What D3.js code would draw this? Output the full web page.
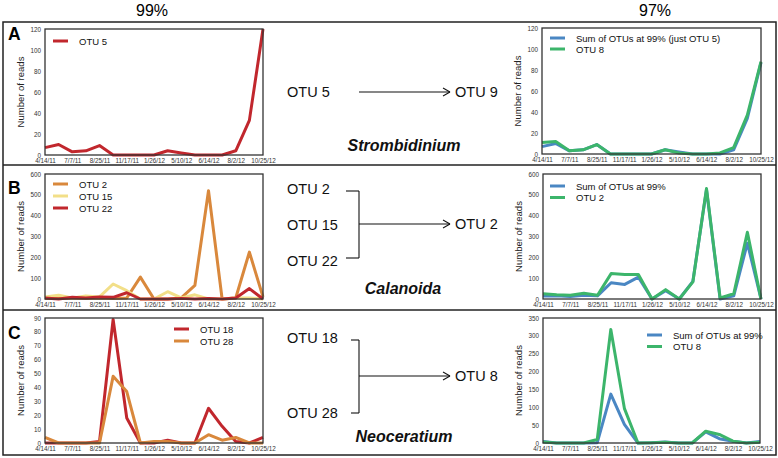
<!DOCTYPE html>
<html><head><meta charset="utf-8">
<script src="https://cdn.jsdelivr.net/npm/d3@7"></script>
<style>body{margin:0;background:#fff}svg{display:block}text{font-family:"Liberation Sans",Arial,sans-serif}</style>
</head><body>
<script>
const dateLabels = ["4/14/11","7/7/11","8/25/11","11/17/11","1/26/12","5/10/12","6/14/12","8/2/12","10/25/12"];
// 17 sampling points, labels every 2nd point
const otu5_99  = [7,10,3,4,9,0,0,0,0,4,2,0,0,0,4,33,120];
const sumA_97  = [7,10,3,4,9,0,0,0,0,4,2,0,0,0,4,34,87];
const otu8A_97 = [11,12,3,4,9,0,0,0,0,4,1,0,0,1,6,37,88];

const otu2_99  = [5,3,5,3,5,2,5,105,0,0,5,65,520,0,5,225,10];
const otu15_99 = [10,18,5,15,10,72,40,0,0,35,5,20,0,0,5,5,0];
const otu22_99 = [5,0,8,5,10,8,30,0,0,0,3,0,2,0,5,50,0];
const sumB_97  = [15,15,12,18,15,78,70,105,0,40,0,85,525,0,15,268,0];
const otu2B_97 = [25,20,18,28,18,122,118,118,0,45,0,82,530,5,25,320,0];

const otu18_99 = [0,0,0,0,1,89,18,0,0,2,0,0,25,12,1,0,4];
const otu28_99 = [4,0,0,0,0,48,37,0,1,1,0,0,6,2,4,0,0];
const sumC_97  = [4,0,0,0,1,137,52,0,1,3,0,0,31,12,5,0,4];
const otu8C_97 = [3,0,0,0,10,318,97,0,1,2,0,0,33,24,5,0,2];

const C = {red:"#c1272d", orange:"#d9883c", yellow:"#f2df88", blue:"#4a87c3", green:"#3cb56b"};

const W=778,H=458;
const svg=d3.select("body").append("svg").attr("width",W).attr("height",H);

function chart(cfg){
  const {x0,x1,y0,y1,ymax,ystep,series,legend,lx,ly} = cfg;
  const g=svg.append("g");
  const x=d3.scaleLinear().domain([0,16]).range([x0,x1]);
  const y=d3.scaleLinear().domain([0,ymax]).range([y1,y0]);
  const ya=g.append("g").attr("transform",`translate(${x0-3},0)`)
    .call(d3.axisLeft(y).tickValues(d3.range(0,ymax+0.001,ystep)).tickSize(0).tickPadding(1));
  ya.select(".domain").remove();
  ya.selectAll("text").attr("font-size",6.3).attr("fill","#333").style("font-family","Liberation Sans, Arial");
  const xa=g.append("g").attr("transform",`translate(0,${y1+3})`)
    .call(d3.axisBottom(x).tickValues(d3.range(0,17,2)).tickFormat((d,i)=>dateLabels[i]).tickSize(0).tickPadding(1));
  xa.select(".domain").remove();
  xa.selectAll("text").attr("font-size",6.3).attr("fill","#333").style("font-family","Liberation Sans, Arial");
  g.append("text").attr("transform",`translate(${x0-21},${(y0+y1)/2}) rotate(-90)`)
    .attr("text-anchor","middle").attr("font-size",9.5).attr("fill","#222").text("Number of reads");
  const line=d3.line().x((d,i)=>x(i)).y(d=>y(d));
  series.forEach(s=>{
    g.append("path").datum(s.values).attr("d",line).attr("fill","none")
      .attr("stroke",s.color).attr("stroke-width",3).attr("stroke-linejoin","round");
  });
  g.append("rect").attr("x",x0).attr("y",y0).attr("width",x1-x0).attr("height",y1-y0)
    .attr("fill","none").attr("stroke","#333").attr("stroke-width",1.3);
  legend.forEach((s,i)=>{
    const yy=ly+i*cfg.lgap;
    g.append("line").attr("x1",lx).attr("x2",lx+15).attr("y1",yy).attr("y2",yy)
      .attr("stroke",s.color).attr("stroke-width",3);
    g.append("text").attr("x",lx+26).attr("y",yy+3.5).attr("font-size",9.5).attr("fill","#111").text(s.name);
  });
}

// frame
svg.append("rect").attr("x",3).attr("y",22).attr("width",773).attr("height",433)
  .attr("fill","none").attr("stroke","#222").attr("stroke-width",1.5);
[165,310].forEach(yy=>svg.append("line").attr("x1",3).attr("x2",776).attr("y1",yy).attr("y2",yy)
  .attr("stroke","#222").attr("stroke-width",1.5));

svg.append("text").attr("x",152).attr("y",16).attr("text-anchor","middle").attr("font-size",16).text("99%");
svg.append("text").attr("x",655).attr("y",16).attr("text-anchor","middle").attr("font-size",16).text("97%");
[["A",40],["B",194],["C",339]].forEach(([t,yy])=>svg.append("text").attr("x",8).attr("y",yy)
  .attr("font-size",17.5).attr("font-weight","bold").text(t));

// Row A
chart({x0:45,x1:263,y0:29,y1:155,ymax:120,ystep:20,
  series:[{color:C.red,values:otu5_99}],
  legend:[{name:"OTU 5",color:C.red}],lx:53,ly:41,lgap:11});
chart({x0:542,x1:761,y0:28,y1:154,ymax:120,ystep:20,
  series:[{color:C.blue,values:sumA_97},{color:C.green,values:otu8A_97}],
  legend:[{name:"Sum of OTUs at 99% (just OTU 5)",color:C.blue},{name:"OTU 8",color:C.green}],lx:550,ly:38,lgap:11});
// Row B
chart({x0:45,x1:263,y0:174,y1:299,ymax:600,ystep:100,
  series:[{color:C.orange,values:otu2_99},{color:C.yellow,values:otu15_99},{color:C.red,values:otu22_99}],
  legend:[{name:"OTU 2",color:C.orange},{name:"OTU 15",color:C.yellow},{name:"OTU 22",color:C.red}],lx:53,ly:184,lgap:12});
chart({x0:543,x1:761,y0:174,y1:299,ymax:600,ystep:100,
  series:[{color:C.blue,values:sumB_97},{color:C.green,values:otu2B_97}],
  legend:[{name:"Sum of OTUs at 99%",color:C.blue},{name:"OTU 2",color:C.green}],lx:550,ly:186,lgap:11.5});
// Row C
chart({x0:45,x1:263,y0:318,y1:443,ymax:90,ystep:10,
  series:[{color:C.red,values:otu18_99},{color:C.orange,values:otu28_99}],
  legend:[{name:"OTU 18",color:C.red},{name:"OTU 28",color:C.orange}],lx:174,ly:329,lgap:12});
chart({x0:543,x1:760,y0:318,y1:443,ymax:350,ystep:50,
  series:[{color:C.blue,values:sumC_97},{color:C.green,values:otu8C_97}],
  legend:[{name:"Sum of OTUs at 99%",color:C.blue},{name:"OTU 8",color:C.green}],lx:647,ly:335,lgap:11.5});

// middle annotations
const mid=svg.append("g").attr("fill","#111");
function t(x,y,s,opt={}){const e=mid.append("text").attr("x",x).attr("y",y).attr("font-size",opt.size||14.5).text(s);
  if(opt.anchor)e.attr("text-anchor",opt.anchor); if(opt.it){e.attr("font-weight","bold").attr("font-style","italic");} return e;}
function ln(x1,y1,x2,y2){mid.append("line").attr("x1",x1).attr("y1",y1).attr("x2",x2).attr("y2",y2).attr("stroke","#111").attr("stroke-width",1.1);}
function arrow(x1,x2,y){ln(x1,y,x2,y);ln(x2-7,y-4,x2,y);ln(x2-7,y+4,x2,y);}
t(287,97,"OTU 5"); arrow(359,450,92); t(455,97,"OTU 9");
t(404,151,"Strombidinium",{anchor:"middle",it:true,size:16});
t(287,194,"OTU 2"); t(287,230,"OTU 15"); t(287,266,"OTU 22");
ln(346,191,359,191); ln(359,191,359,258); ln(346,258,359,258); arrow(359,450,224); t(455,229,"OTU 2");
t(403,294,"Calanoida",{anchor:"middle",it:true,size:16});
t(287,343,"OTU 18"); t(287,418,"OTU 28");
ln(351,340,359,340); ln(359,340,359,413); ln(351,413,359,413); arrow(359,450,376); t(455,381,"OTU 8");
t(404,442,"Neoceratium",{anchor:"middle",it:true,size:16});
</script>
</body></html>
